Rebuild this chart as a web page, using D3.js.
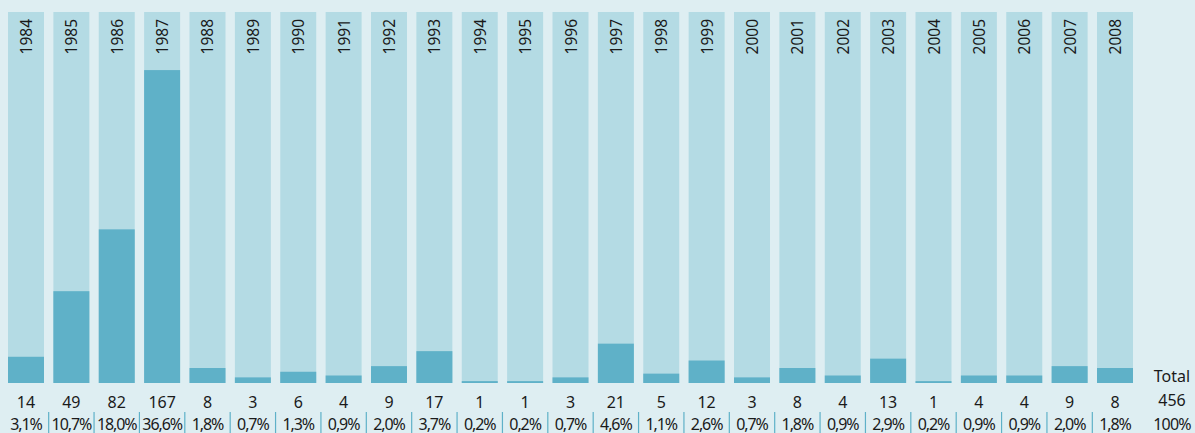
<!DOCTYPE html>
<html>
<head>
<meta charset="utf-8">
<script src="https://cdn.jsdelivr.net/npm/d3@7/dist/d3.min.js"></script>
<style>
  html, body { margin: 0; padding: 0; background: #deeef2; }
  svg { display: block; }
  text { font-family: "Noto Sans", "Open Sans", sans-serif; fill: #1a1a1a; }
</style>
</head>
<body>
<svg id="chart" width="1195" height="433"></svg>
<script>
var years = ["1984", "1985", "1986", "1987", "1988", "1989", "1990", "1991", "1992", "1993", "1994", "1995", "1996",
             "1997", "1998", "1999", "2000", "2001", "2002", "2003", "2004", "2005", "2006", "2007", "2008"];
var counts = [14, 49, 82, 167, 8, 3, 6, 4, 9, 17, 1, 1, 3, 21, 5, 12, 3, 8, 4, 13, 1, 4, 4, 9, 8];
var shares = ["3,1%", "10,7%", "18,0%", "36,6%", "1,8%", "0,7%", "1,3%", "0,9%", "2,0%", "3,7%", "0,2%", "0,2%", "0,7%",
              "4,6%", "1,1%", "2,6%", "0,7%", "1,8%", "0,9%", "2,9%", "0,2%", "0,9%", "0,9%", "2,0%", "1,8%"];
var totalLabels = ["Total", "456", "100%"];
var yMax = 198;

var svg = d3.select("#chart");

var rows = years.map(function (y, i) {
    return { year: y, count: counts[i], share: shares[i] };
});

var x = d3.scaleBand().domain(years).range([8, 1133]).paddingInner(0.207).paddingOuter(0);
var y = d3.scaleLinear().domain([0, yMax]).range([383, 12]);

var col = svg.selectAll("g.col").data(rows).enter().append("g")
    .attr("class", "col")
    .attr("transform", function (d) { return "translate(" + x(d.year) + ",0)"; });

// background track
col.append("rect")
    .attr("x", 0).attr("width", x.bandwidth())
    .attr("y", y(yMax)).attr("height", y(0) - y(yMax))
    .attr("fill", "#b4dbe4");

// value bar
col.append("rect")
    .attr("x", 0).attr("width", x.bandwidth())
    .attr("y", function (d) { return y(d.count); })
    .attr("height", function (d) { return y(0) - y(d.count); })
    .attr("fill", "#5fb1c8");

// year labels, rotated
col.append("text")
    .attr("transform", "translate(" + (x.bandwidth() / 2 + 6) + ",19) rotate(-90)")
    .attr("text-anchor", "end")
    .style("font-size", "15.5px")
    .text(function (d) { return d.year; });

// count labels
col.append("text")
    .attr("x", x.bandwidth() / 2).attr("y", 408)
    .attr("text-anchor", "middle")
    .style("font-size", "16px")
    .text(function (d) { return d.count; });

// share labels
col.append("text")
    .attr("x", x.bandwidth() / 2).attr("y", 429.5)
    .attr("text-anchor", "middle")
    .style("font-size", "16px")
    .style("letter-spacing", "-1.1px")
    .text(function (d) { return d.share; });

// separators between share cells
svg.selectAll("line.sep").data(years.slice(1)).enter().append("line")
    .attr("class", "sep")
    .attr("x1", function (d) { return x(d) - (x.step() - x.bandwidth()) / 2; })
    .attr("x2", function (d) { return x(d) - (x.step() - x.bandwidth()) / 2; })
    .attr("y1", 412).attr("y2", 433)
    .attr("stroke", "#5fb1c8").attr("stroke-width", 1.2);

// total column
svg.selectAll("text.total").data(totalLabels).enter().append("text")
    .attr("class", "total")
    .attr("x", 1172)
    .attr("y", function (d, i) { return [382, 406, 429.5][i]; })
    .attr("text-anchor", "middle")
    .style("font-size", "16px")
    .style("letter-spacing", function (d, i) { return i === 2 ? "-0.8px" : "0"; })
    .text(function (d) { return d; });
</script>
</body>
</html>
